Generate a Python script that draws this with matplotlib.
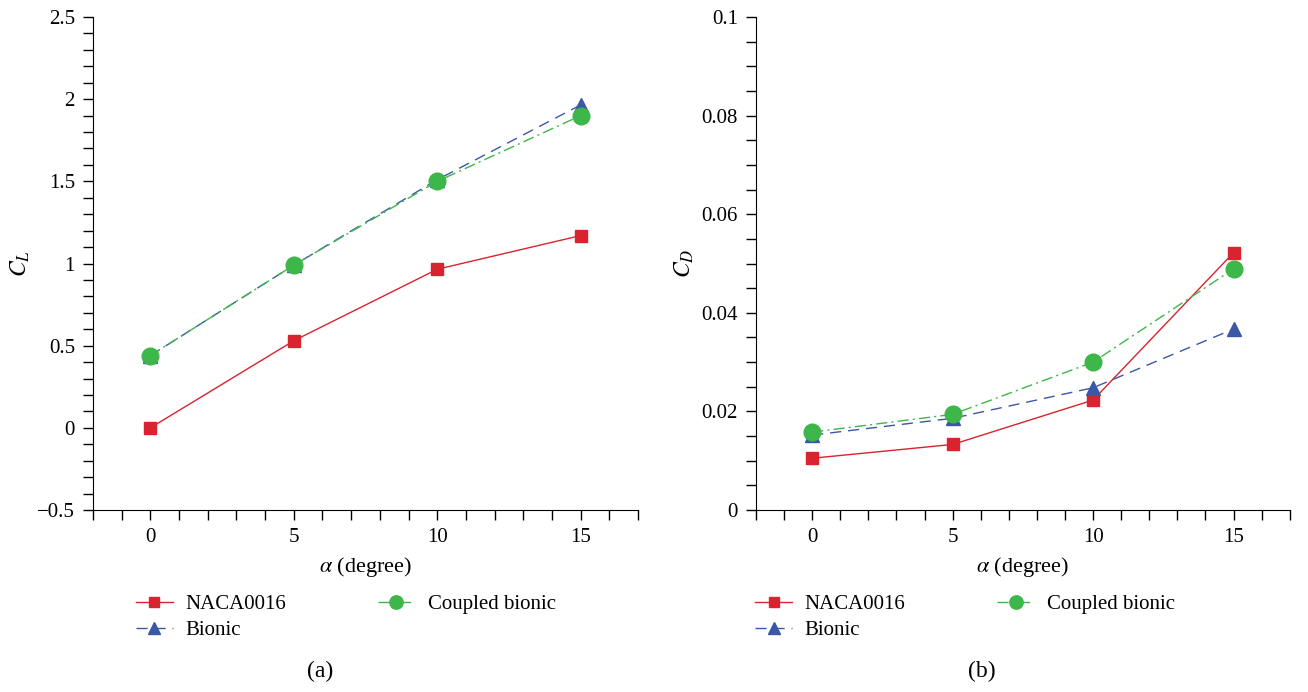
import matplotlib.pyplot as plt
from matplotlib.ticker import MultipleLocator

plt.rcParams['font.family'] = ['Liberation Serif', 'DejaVu Serif']
plt.rcParams['mathtext.fontset'] = 'stix'

# angle of attack
alpha = [0, 5, 10, 15]

# lift coefficient
cl_naca = [0.0, 0.53, 0.965, 1.17]
cl_bionic = [0.44, 0.99, 1.51, 1.965]
cl_coupled = [0.44, 0.99, 1.50, 1.90]

# drag coefficient
cd_naca = [0.0105, 0.0133, 0.0223, 0.0522]
cd_bionic = [0.0152, 0.0186, 0.0248, 0.0367]
cd_coupled = [0.0158, 0.0194, 0.0300, 0.0489]

labels = ['NACA0016', 'Bionic', 'Coupled bionic']

red = '#d9232e'
blue = '#3b57a8'
green = '#3db64a'


def draw(ax, naca, bionic, coupled, legend_x):
    ax.plot(alpha, naca, color=red, lw=1.0, ls='-', marker='s', ms=9,
            label=labels[0])
    ax.plot(alpha, bionic, color=blue, lw=1.0, ls=(0, (8, 5)), marker='^',
            ms=10, label=labels[1])
    ax.plot(alpha, coupled, color=green, lw=1.0, ls=(0, (8, 3, 1.5, 3)),
            marker='o', ms=12, label=labels[2])
    ax.set_xlim(-2, 17)
    ax.xaxis.set_major_locator(MultipleLocator(5))
    ax.xaxis.set_minor_locator(MultipleLocator(1))
    for side in ['top', 'right']:
        ax.spines[side].set_visible(False)
    ax.tick_params(which='both', direction='out', length=7, width=1,
                   labelsize=15, pad=6)
    ax.set_xlabel(r'$\alpha$ (degree)', fontsize=16, labelpad=6)
    ax.legend(loc='upper left', bbox_to_anchor=(legend_x, -0.155), ncol=2,
              frameon=False, fontsize=15, handlelength=1.75, markerscale=0.8,
              columnspacing=4.4, labelspacing=0.3, handletextpad=0.63,
              borderaxespad=0)


fig = plt.figure(figsize=(13.08, 6.92), dpi=100)
ax1 = fig.add_axes([0.0711, 0.263, 0.4167, 0.7124])
ax2 = fig.add_axes([0.578, 0.263, 0.408, 0.7124])

draw(ax1, cl_naca, cl_bionic, cl_coupled, 0.064)
ax1.set_ylim(-0.5, 2.5)
ax1.set_yticks([-0.5, 0, 0.5, 1, 1.5, 2, 2.5])
ax1.set_yticklabels(['\u22120.5', '0', '0.5', '1', '1.5', '2', '2.5'])
ax1.yaxis.set_minor_locator(MultipleLocator(0.1))
ax1.set_ylabel(r'$C_L$', fontsize=17)

draw(ax2, cd_naca, cd_bionic, cd_coupled, -0.017)
ax2.set_ylim(0, 0.1)
ax2.set_yticks([0, 0.02, 0.04, 0.06, 0.08, 0.1])
ax2.set_yticklabels(['0', '0.02', '0.04', '0.06', '0.08', '0.1'])
ax2.yaxis.set_minor_locator(MultipleLocator(0.005))
ax2.set_ylabel(r'$C_D$', fontsize=17)

fig.text(0.245, 0.022, '(a)', ha='center', fontsize=17)
fig.text(0.751, 0.022, '(b)', ha='center', fontsize=17)

fig.savefig('out.png', dpi=100)
